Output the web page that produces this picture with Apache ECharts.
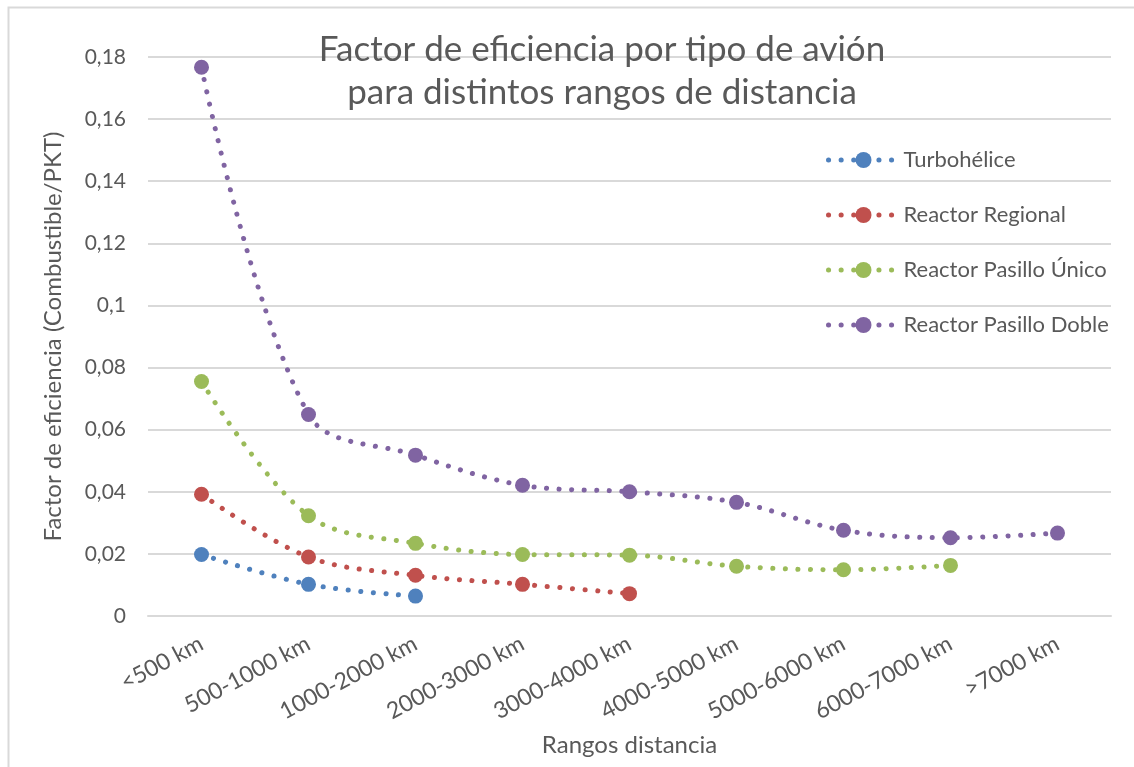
<!DOCTYPE html>
<html>
<head>
<meta charset="utf-8">
<script src="https://cdn.jsdelivr.net/npm/echarts@6/dist/echarts.min.js"></script>
<style>
  html, body { margin: 0; padding: 0; background: #ffffff; }
  #chart { width: 1134px; height: 767px; }
</style>
</head>
<body>
<div id="chart"></div>
<script>
// Distance ranges (x categories)
const categories = ['<500 km', '500-1000 km', '1000-2000 km', '2000-3000 km', '3000-4000 km',
                    '4000-5000 km', '5000-6000 km', '6000-7000 km', '>7000 km'];

// Efficiency factor (fuel / PKT) per aircraft type
const turbohelice = [0.0198, 0.0102, 0.0064];
const reactorRegional = [0.0392, 0.0190, 0.0131, 0.0102, 0.0072];
const reactorPasilloUnico = [0.0755, 0.0323, 0.0234, 0.0198, 0.0196, 0.0160, 0.0149, 0.0163];
const reactorPasilloDoble = [0.1767, 0.0649, 0.0518, 0.0421, 0.0400, 0.0366, 0.0276, 0.0252, 0.0267];

const seriesNames = ['Turbohélice', 'Reactor Regional', 'Reactor Pasillo Único', 'Reactor Pasillo Doble'];
const seriesColors = ['#4F81BD', '#C0504D', '#9BBB59', '#8064A2'];
const seriesData = [turbohelice, reactorRegional, reactorPasilloUnico, reactorPasilloDoble];

const FONT = 'Lato, "Open Sans", sans-serif';
const TEXT_COLOR = '#595959';

const chart = echarts.init(document.getElementById('chart'), null, { renderer: 'canvas' });

const option = {
  backgroundColor: '#ffffff',
  animation: false,
  textStyle: { fontFamily: FONT },
  title: {
    text: 'Factor de eficiencia por tipo de avión\npara distintos rangos de distancia',
    left: 597,
    top: 23,
    textAlign: 'center',
    textStyle: {
      fontFamily: FONT,
      fontSize: 35,
      fontWeight: 'normal',
      color: TEXT_COLOR,
      lineHeight: 43
    }
  },
  graphic: [{
    type: 'rect',
    silent: true,
    shape: { x: 8.5, y: 7.5, width: 1140, height: 780 },
    style: { fill: null, stroke: '#d9d9d9', lineWidth: 2 }
  }],
  legend: {
    orient: 'vertical',
    left: 821,
    top: 144,
    itemWidth: 70,
    itemHeight: 20,
    itemGap: 33,
    lineStyle: { width: 5, cap: 'round' },
    textStyle: { fontFamily: FONT, fontSize: 22, color: TEXT_COLOR },
    data: seriesNames
  },
  grid: {
    left: 148,
    right: 23,
    top: 57,
    bottom: 151,
    containLabel: false
  },
  xAxis: {
    type: 'category',
    data: categories,
    boundaryGap: true,
    name: 'Rangos distancia',
    nameLocation: 'middle',
    nameGap: 117,
    nameTextStyle: { fontFamily: FONT, fontSize: 24, color: TEXT_COLOR },
    axisLine: { show: true, lineStyle: { color: '#d9d9d9', width: 2 } },
    axisTick: { show: false },
    axisLabel: {
      rotate: 28,
      margin: 26,
      fontFamily: FONT,
      fontSize: 23,
      color: TEXT_COLOR,
      interval: 0
    },
    splitLine: { show: false }
  },
  yAxis: {
    type: 'value',
    min: 0,
    max: 0.18,
    interval: 0.02,
    name: 'Factor de eficiencia (Combustible/PKT)',
    nameLocation: 'middle',
    nameGap: 83,
    nameTextStyle: { fontFamily: FONT, fontSize: 24, color: TEXT_COLOR },
    axisLine: { show: false },
    axisTick: { show: false },
    axisLabel: {
      margin: 22,
      fontFamily: FONT,
      fontSize: 21,
      color: TEXT_COLOR,
      formatter: function (v) {
        return String(parseFloat(v.toFixed(2))).replace('.', ',');
      }
    },
    splitLine: { show: true, lineStyle: { color: '#d9d9d9', width: 2 } }
  },
  series: seriesData.map(function (values, i) {
    return {
      name: seriesNames[i],
      type: 'line',
      data: values,
      smooth: 0.35,
      symbol: 'circle',
      symbolSize: 15,
      color: seriesColors[i],
      itemStyle: { color: seriesColors[i] },
      lineStyle: {
        color: seriesColors[i],
        width: 5,
        type: [0.1, 12.5],
        cap: 'round'
      },
      z: 2 + i
    };
  })
};

chart.setOption(option);
</script>
</body>
</html>
